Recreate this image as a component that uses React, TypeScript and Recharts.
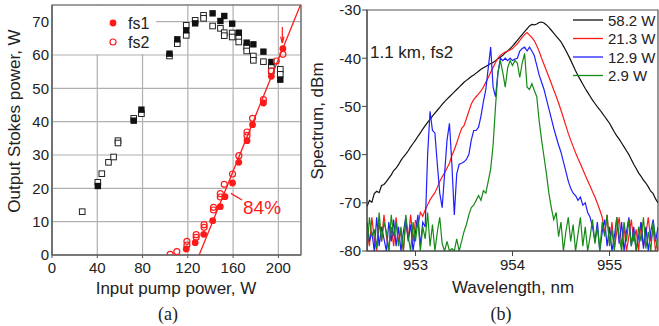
import { CartesianGrid, Line, LineChart, ReferenceArea, ReferenceLine, Scatter, ScatterChart, XAxis, YAxis } from 'recharts'

const FONT = '"Liberation Sans", Arial, Helvetica, sans-serif'
const SERIF = '"Liberation Serif", "Times New Roman", serif'
const INK = '#222'
const RED = '#ff1a1a'

// ---------- (a) output Stokes power vs input pump power ----------
const pumpTicks = [0, 40, 80, 120, 160, 200]
const stokesTicks = [0, 10, 20, 30, 40, 50, 60, 70]

// [pump W, output W]
const totalFilled = [
  [40.5, 20.7], [72.2, 40.3], [79, 43.6], [103.8, 60.4], [110.7, 64.7], [118.6, 67.4], [126.5, 69.5],
  [141.9, 72.5], [148.8, 70.2], [152.2, 71.7], [159.2, 69.4], [165, 66.7], [172, 63.7], [177.9, 63.2],
  [186.8, 61], [193.8, 57.9], [201.7, 52.6],
]
const totalOpen = [
  [26.7, 13], [40.5, 21.8], [44, 24.4], [49.9, 27.8], [54.4, 29.4], [58.3, 34.3], [58.3, 33.6],
  [72.2, 41], [79, 42.4], [103.8, 59.7], [110.7, 63.4], [118.6, 68.9], [118.6, 65.9], [126.5, 70.4],
  [133.9, 71.9], [133.9, 71], [141.9, 68.7], [148.8, 68], [152.2, 66.7], [152.2, 65.8], [159.2, 66.6],
  [159.2, 65.4], [165, 65.2], [165, 63.9], [172, 62.5], [172, 61.2], [177.9, 59.7], [177.9, 58.4],
  [186.8, 58], [193.8, 56.6], [193.8, 55.2], [201.7, 55.7], [201.7, 54.2],
]
const fs1 = [
  [118.6, 1.8], [126.5, 3.7], [134, 6.2], [142, 10.3], [148.7, 14.5], [152.8, 17.5], [159.5, 21.6],
  [165, 27.8], [172.3, 34.3], [177.2, 39.1], [186.8, 45.6], [193.8, 53.6], [204, 61.9],
]
const fs2 = [
  [104.4, 0.2], [110.3, 1], [119.2, 3], [119.2, 4.1], [127.4, 5.3], [127.4, 6.1], [134.4, 8.3],
  [134.4, 9.1], [142.7, 13.5], [142.7, 14.3], [148.7, 17.4], [148.7, 18.4], [152.2, 21.2], [159.5, 24.3],
  [165.1, 29.8], [172.3, 35.8], [172.3, 36.9], [177.2, 41], [186.8, 46.6], [193.8, 55.2], [198.2, 58.2],
  [204, 60.2],
]
const slopeFit = [[130, 0], [219.5, 75]]

// ---------- (b) spectra, 1.1 km, fs2 ----------
const nmTicks = [953, 954, 955]
const dbmTicks = [-80, -70, -60, -50, -40, -30]

const wavelengths = [
  952.5, 952.525, 952.55, 952.575, 952.6, 952.625, 952.65, 952.675, 952.7, 952.725, 952.75, 952.775,
  952.8, 952.825, 952.85, 952.875, 952.9, 952.925, 952.95, 952.975, 953, 953.025, 953.05, 953.075,
  953.1, 953.125, 953.15, 953.175, 953.2, 953.225, 953.25, 953.275, 953.3, 953.325, 953.35, 953.375,
  953.4, 953.425, 953.45, 953.475, 953.5, 953.525, 953.55, 953.575, 953.6, 953.625, 953.65, 953.675,
  953.7, 953.725, 953.75, 953.775, 953.8, 953.825, 953.85, 953.875, 953.9, 953.925, 953.95, 953.975,
  954, 954.025, 954.05, 954.075, 954.1, 954.125, 954.15, 954.175, 954.2, 954.225, 954.25, 954.275,
  954.3, 954.325, 954.35, 954.375, 954.4, 954.425, 954.45, 954.475, 954.5, 954.525, 954.55, 954.575,
  954.6, 954.625, 954.65, 954.675, 954.7, 954.725, 954.75, 954.775, 954.8, 954.825, 954.85, 954.875,
  954.9, 954.925, 954.95, 954.975, 955, 955.025, 955.05, 955.075, 955.1, 955.125, 955.15, 955.175,
  955.2, 955.225, 955.25, 955.275, 955.3, 955.325, 955.35, 955.375, 955.4, 955.425, 955.45, 955.475,
  955.5,
]

const dbm58 = [
  -70.8, -69.5, -69.9, -68.1,
  -67.6, -67.9, -66.4, -66.2,
  -65.6, -64.9, -64.2, -63.3,
  -62.8, -62.1, -61.2, -60.5,
  -59.9, -59.2, -58.4, -57.7,
  -57.0, -56.2, -55.5, -54.7,
  -54.0, -53.3, -52.7, -52.0,
  -51.4, -50.8, -50.2, -49.6,
  -49.0, -48.5, -48.0, -47.5,
  -47.0, -46.5, -46.0, -45.5,
  -45.0, -44.6, -44.2, -43.8,
  -43.5, -43.1, -42.7, -42.3,
  -42.0, -41.7, -41.4, -41.1,
  -40.9, -40.5, -40.1, -39.8,
  -39.4, -38.9, -38.5, -38.0,
  -37.5, -36.9, -36.3, -35.7,
  -35.1, -34.5, -33.9, -33.3,
  -33.0, -33.1, -32.9, -32.6,
  -32.5, -32.7, -33.1, -33.6,
  -34.2, -34.8, -35.4, -36.0,
  -36.6, -37.5, -38.4, -39.4,
  -40.4, -41.5, -42.6, -43.6,
  -44.5, -45.4, -46.3, -47.1,
  -47.9, -48.7, -49.4, -50.1,
  -50.7, -51.4, -52.1, -52.8,
  -53.5, -54.4, -55.3, -56.1,
  -56.8, -57.6, -58.4, -59.2,
  -60.0, -61.0, -62.0, -62.9,
  -63.8, -64.5, -65.3, -65.9,
  -66.7, -67.6, -68.1, -69.2,
  -70.0,
]

const dbm21 = [
  -76, -79, -73, -77.5,
  -80, -74, -78, -72.5,
  -77, -80, -75, -79,
  -73, -78, -76, -80,
  -74, -77.5, -72.5, -78,
  -73.6, -75, -72, -72.8,
  -71.5, -70.4, -69.4, -68.6,
  -67.9, -66.8, -65.6, -64.6,
  -63.8, -62.8, -61.8, -60.2,
  -59.0, -57.6, -56.0, -54.6,
  -54.0, -52.5, -51.0, -49.5,
  -48.6, -48.0, -47.4, -46.8,
  -46.0, -45.0, -44.0, -42.9,
  -41.9, -40.9, -40.0, -39.4,
  -39.0, -38.7, -38.5, -38.3,
  -38.0, -37.5, -37.0, -36.3,
  -35.7, -35.1, -34.7, -35.2,
  -35.7, -36.4, -37.4, -38.6,
  -40.0, -41.3, -42.6, -43.9,
  -45.2, -46.6, -47.9, -49.3,
  -50.8, -52.4, -54.0, -55.6,
  -57.0, -58.3, -59.6, -60.8,
  -61.9, -63.1, -64.3, -65.4,
  -66.5, -67.7, -68.8, -70.1,
  -71.5, -73.0, -76.5, -72.5,
  -78.5, -74.0, -79.5, -76.0,
  -73.0, -79.0, -75.0, -80.0,
  -77.0, -73.5, -78.0, -75.5,
  -80.0, -74.0, -79.0, -76.5,
  -73.0, -78.0, -75.5, -80.0,
  -77.0,
]

const dbm13 = [
  -74, -78, -76, -80,
  -73, -79, -75, -77.5,
  -80, -74, -78, -73.5,
  -79, -75, -80, -76,
  -73, -78, -74.5, -80,
  -76, -72.5, -79, -74,
  -75, -60, -51, -55,
  -55.5, -62, -68, -71,
  -64, -57, -53.5, -62,
  -72.5, -64, -62, -61.8,
  -61.5, -61, -60, -57,
  -55, -55, -54.3, -52,
  -49, -46.5, -42, -37.7,
  -46, -48, -43, -40,
  -40.5, -40, -40.5, -40,
  -40.5, -40.2, -40, -38.5,
  -38, -37.7, -38.5, -37.7,
  -38.5, -39.5, -41.5, -43.5,
  -45, -46.5, -48.5, -50.5,
  -52.5, -54.5, -56.3, -58,
  -59.5, -61.5, -63.5, -65.5,
  -67, -68, -68.5, -69.5,
  -68.8, -70.5, -70, -72,
  -73, -75, -78, -74,
  -80, -76, -73.5, -79,
  -75, -80, -77, -73,
  -78.5, -74, -80, -76,
  -73, -79, -75, -80,
  -77, -74, -79.5, -75,
  -80, -76, -73.5, -78,
  -75,
]

const dbm3 = [
  -80, -73, -77, -75.5,
  -79.5, -72, -78, -74,
  -76, -80, -72.5, -77,
  -74, -79, -75, -80,
  -72.5, -77, -80, -74,
  -78, -73.5, -80, -75,
  -77.5, -72, -79, -74.5,
  -80, -76, -73, -78.5,
  -80, -78, -80, -79.5,
  -80, -77.5, -80, -78,
  -76, -74.5, -72.5, -71,
  -70.5, -69.5, -68.5, -69.5,
  -67.5, -68, -65.5, -63,
  -58, -50, -43, -40.5,
  -43, -46, -42, -40.5,
  -41.5, -40.5, -41, -44,
  -41, -39, -46, -46.5,
  -45.3, -46.7, -48, -53,
  -57, -60.5, -64, -68,
  -71, -73.5, -72, -77,
  -74, -80, -76, -73,
  -78, -74.5, -80, -76.5,
  -73, -79, -75, -80,
  -77, -73.5, -78.5, -75,
  -80, -74, -77, -72.5,
  -79, -75.5, -80, -73,
  -77, -80, -74, -78,
  -73.5, -79, -76, -80,
  -75, -78, -73, -79.5,
  -76, -80, -74, -77.5,
  -80,
]

const spectraSeries = [
  { key: 'w58', label: '58.2 W', color: '#111111', values: dbm58 },
  { key: 'w21', label: '21.3 W', color: '#ff1a1a', values: dbm21 },
  { key: 'w13', label: '12.9 W', color: '#1f1fff', values: dbm13 },
  { key: 'w3', label: '2.9 W', color: '#168a16', values: dbm3 },
]

const toPoints = (rows: number[][]) => rows.map(([p, w]) => ({ p, w }))

const spectra = wavelengths.map((nm, i) => {
  const row: Record<string, number> = { nm }
  spectraSeries.forEach((s) => { row[s.key] = s.values[i] })
  return row
})

const tickStyle = { fill: INK, fontSize: 15, fontFamily: FONT }

export default function App() {
  return (
    <div style={{ position: 'absolute', left: 0, top: 0, width: 659, height: 326, background: '#fff', fontFamily: FONT }}>
      <div style={{ position: 'absolute', left: 0, top: 0 }}>
        <ScatterChart width={306} height={326} margin={{ top: 5, right: 5, bottom: 0, left: 0 }}>
          <CartesianGrid stroke="#b0b0b0" strokeWidth={1.2} />
          <XAxis type="number" dataKey="p" domain={[0, 220]} ticks={pumpTicks} height={71}
            stroke="#555" tickSize={3} tickMargin={4} tick={tickStyle} allowDataOverflow />
          <YAxis type="number" dataKey="w" domain={[0, 75]} ticks={stokesTicks} width={52}
            stroke="#555" tickSize={0} tickMargin={3} tick={tickStyle} allowDataOverflow />
          <ReferenceArea x1={0} x2={220} y1={0} y2={75} fill="none" stroke="#666" strokeWidth={1.2} />
          <Scatter data={toPoints(totalOpen)} isAnimationActive={false}
            shape={(s: any) => <rect x={s.cx - 2.8} y={s.cy - 2.8} width={5.6} height={5.6} fill="#fff" stroke="#222" strokeWidth={1} />} />
          <Scatter data={toPoints(totalFilled)} isAnimationActive={false}
            shape={(s: any) => <rect x={s.cx - 3.2} y={s.cy - 3.2} width={6.4} height={6.4} fill="#111" />} />
          <Scatter data={toPoints(slopeFit)} isAnimationActive={false} line={{ stroke: RED, strokeWidth: 1.3 }}
            shape={() => <g />} />
          <Scatter data={toPoints(fs2)} isAnimationActive={false}
            shape={(s: any) => <circle cx={s.cx} cy={s.cy} r={3} fill="none" stroke={RED} strokeWidth={1.2} />} />
          <Scatter data={toPoints(fs1)} isAnimationActive={false}
            shape={(s: any) => <circle cx={s.cx} cy={s.cy} r={3.4} fill={RED} />} />
          <ReferenceLine segment={[{ x: 203.5, y: 68.4 }, { x: 203.5, y: 63.6 }]} stroke={RED} strokeWidth={1.2} />
          <ReferenceLine segment={[{ x: 202, y: 65.5 }, { x: 203.5, y: 63.6 }]} stroke={RED} strokeWidth={1.2} />
          <ReferenceLine segment={[{ x: 205, y: 65.5 }, { x: 203.5, y: 63.6 }]} stroke={RED} strokeWidth={1.2} />
          <ReferenceLine segment={[{ x: 158.1, y: 18.5 }, { x: 167.9, y: 16.5 }]} stroke={RED} strokeWidth={1.3} />
        </ScatterChart>
      </div>

      <div style={{ position: 'absolute', left: 317, top: 0 }}>
        <LineChart width={342} height={326} data={spectra} margin={{ top: 10, right: 1, bottom: 0, left: 0 }}>
          <XAxis type="number" dataKey="nm" domain={[952.5, 955.5]} ticks={nmTicks} height={75}
            stroke="#444" tickSize={5} tickMargin={3} tick={tickStyle} allowDataOverflow />
          <YAxis type="number" domain={[-80, -30]} ticks={dbmTicks} width={50}
            stroke="#444" tickSize={5} tickMargin={1} tick={tickStyle} allowDataOverflow />
          <ReferenceArea x1={952.5} x2={955.5} y1={-80} y2={-30} fill="none" stroke="#555" strokeWidth={1.2} />
          {spectraSeries.map((s) => (
            <Line key={s.key} type="linear" dataKey={s.key} stroke={s.color} strokeWidth={1.2}
              dot={false} isAnimationActive={false} />
          ))}
        </LineChart>
      </div>

      <svg width={659} height={326} style={{ position: 'absolute', left: 0, top: 0, pointerEvents: 'none' }}
        fontFamily={FONT} fill={INK}>
        {/* panel (a) texts */}
        <text x={14} y={121} fontSize={17} textAnchor="middle" dominantBaseline="central"
          transform="rotate(-90 14 121)">Output Stokes power, W</text>
        <text x={176} y={288} fontSize={17} textAnchor="middle" dominantBaseline="central">Input pump power, W</text>
        <text x={168} y={314} fontSize={18} fontFamily={SERIF} textAnchor="middle" dominantBaseline="central">(a)</text>
        <rect x={53} y={6} width={103} height={48} fill="#fff" />
        <circle cx={113} cy={23} r={3.4} fill={RED} />
        <text x={128} y={23} fontSize={16} dominantBaseline="central">fs1</text>
        <circle cx={113} cy={42} r={3} fill="none" stroke={RED} strokeWidth={1.2} />
        <text x={128} y={42} fontSize={16} dominantBaseline="central">fs2</text>
        <text x={243} y={207} fontSize={19} fill={RED} dominantBaseline="central">84%</text>

        {/* panel (b) texts */}
        <text x={317} y={121} fontSize={17} textAnchor="middle" dominantBaseline="central"
          transform="rotate(-90 317 121)">Spectrum, dBm</text>
        <text x={513} y={287} fontSize={17} textAnchor="middle" dominantBaseline="central">Wavelength, nm</text>
        <text x={501} y={314} fontSize={18} fontFamily={SERIF} textAnchor="middle" dominantBaseline="central">(b)</text>
        <text x={370} y={52} fontSize={17} dominantBaseline="central">1.1 km, fs2</text>
        {spectraSeries.map((s, i) => (
          <g key={s.key}>
            <line x1={573} x2={603} y1={20 + i * 18.5} y2={20 + i * 18.5} stroke={s.color} strokeWidth={1.3} />
            <text x={608} y={20 + i * 18.5} fontSize={15} dominantBaseline="central">{s.label}</text>
          </g>
        ))}
      </svg>
    </div>
  )
}
